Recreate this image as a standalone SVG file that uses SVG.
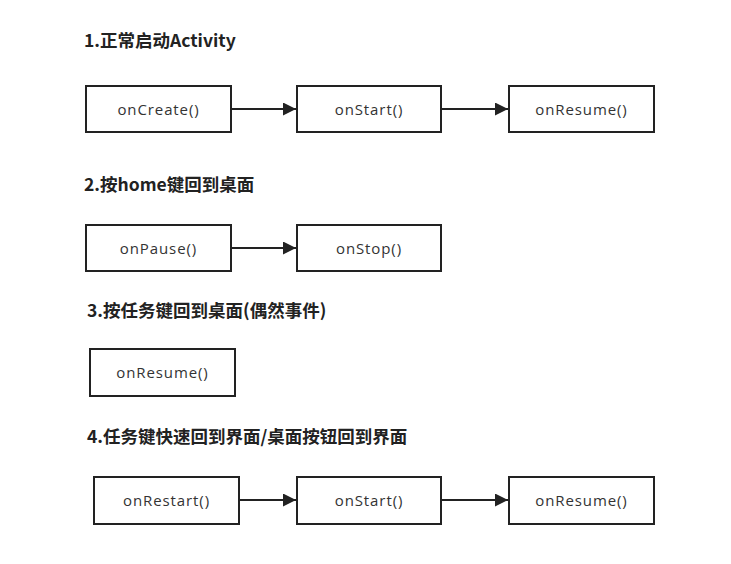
<svg xmlns="http://www.w3.org/2000/svg" width="731" height="564" viewBox="0 0 731 564">
<style>
.title{font-family:"Noto Sans CJK SC","Liberation Sans",sans-serif;font-weight:bold;font-size:17.5px;fill:#222}
.box{fill:#fff;stroke:#222;stroke-width:2}
.lbl{font-family:"Open Sans","Liberation Sans",sans-serif;font-size:15px;letter-spacing:0.9px;fill:#333;text-anchor:middle;dominant-baseline:central}
.edge{stroke:#222;stroke-width:2;fill:none;marker-end:url(#arr)}
</style>
<defs>
<marker id="arr" viewBox="0 0 10 10" refX="10" refY="5" markerWidth="9.5" markerHeight="6.5" markerUnits="strokeWidth" orient="auto">
<path d="M0,0 L10,5 L0,10 z" fill="#222"/>
</marker>
</defs>
<rect width="731" height="564" fill="#fff"/>
<text class="title" x="84" y="47">1.正常启动Activity</text>
<text class="title" x="84" y="191">2.按home键回到桌面</text>
<text class="title" x="87" y="317">3.按任务键回到桌面(偶然事件)</text>
<text class="title" x="87" y="443">4.任务键快速回到界面/桌面按钮回到界面</text>

<g id="n1-create"><rect class="box" x="86" y="86" width="145" height="46"/><text class="lbl" x="158.5" y="109">onCreate()</text></g>
<g id="n1-start"><rect class="box" x="297" y="86" width="144" height="46"/><text class="lbl" x="369" y="109">onStart()</text></g>
<g id="n1-resume"><rect class="box" x="509" y="86" width="145" height="46"/><text class="lbl" x="581.5" y="109">onResume()</text></g>

<g id="n2-pause"><rect class="box" x="86" y="225" width="145" height="46"/><text class="lbl" x="158.5" y="248">onPause()</text></g>
<g id="n2-stop"><rect class="box" x="297" y="225" width="144" height="46"/><text class="lbl" x="369" y="248">onStop()</text></g>

<g id="n3-resume"><rect class="box" x="90" y="349" width="145" height="47"/><text class="lbl" x="162.5" y="372">onResume()</text></g>

<g id="n4-restart"><rect class="box" x="94" y="477" width="145" height="47"/><text class="lbl" x="166.5" y="500">onRestart()</text></g>
<g id="n4-start"><rect class="box" x="297" y="477" width="144" height="47"/><text class="lbl" x="369" y="500">onStart()</text></g>
<g id="n4-resume"><rect class="box" x="509" y="477" width="145" height="47"/><text class="lbl" x="581.5" y="500">onResume()</text></g>

<g id="connectors">
<line class="edge" x1="231" y1="109" x2="296" y2="109"/>
<line class="edge" x1="441" y1="109" x2="508" y2="109"/>
<line class="edge" x1="231" y1="248" x2="296" y2="248"/>
<line class="edge" x1="239" y1="500" x2="296" y2="500"/>
<line class="edge" x1="441" y1="500" x2="508" y2="500"/>
</g>
</svg>
